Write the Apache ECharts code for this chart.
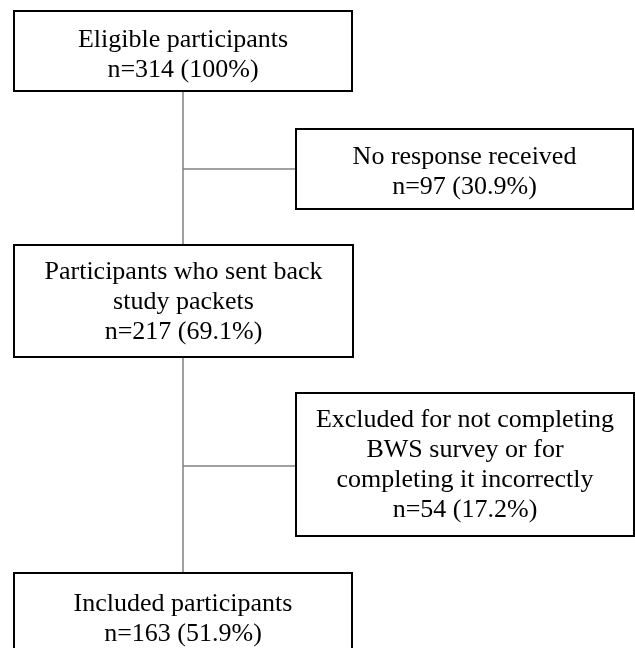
<!DOCTYPE html>
<html>
<head>
<meta charset="utf-8">
<script src="https://cdn.jsdelivr.net/npm/echarts@6/dist/echarts.min.js"></script>
<style>html,body{margin:0;padding:0;background:#fff}#c{width:635px;height:648px}</style>
</head>
<body>
<div id="c"></div>
<script>
// Data
const stageNames = [
  'Eligible participants',
  'No response received',
  'Participants who sent back\nstudy packets',
  'Excluded for not completing\nBWS survey or for\ncompleting it incorrectly',
  'Included participants'
];
const stageCounts = [314, 97, 217, 54, 163];
const stagePercents = ['100%', '30.9%', '69.1%', '17.2%', '51.9%'];

// Layout (pixel-like axis units): x0, y0, x1, y1, text center y
const boxLayout = [
  [14, 11, 352, 91, 55],
  [296, 129, 633, 209, 172],
  [14, 245, 353, 357, 302],
  [296, 393, 634, 536, 465],
  [14, 573, 352, 700, 619]
];
const connectors = [
  [183, 91, 183, 573],
  [183, 169, 296, 169],
  [183, 466, 296, 466]
];

const boxData = boxLayout.map((b, i) => ({
  value: b,
  text: stageNames[i] + '\nn=' + stageCounts[i] + ' (' + stagePercents[i] + ')'
}));

const chart = echarts.init(document.getElementById('c'));
chart.setOption({
  animation: false,
  grid: {left: 0, right: 0, top: 0, bottom: 0},
  xAxis: {type: 'value', min: 0, max: 635, show: false},
  yAxis: {type: 'value', min: 0, max: 648, inverse: true, show: false},
  series: [
    {
      type: 'custom',
      data: connectors,
      renderItem: function (params, api) {
        const p1 = api.coord([api.value(0), api.value(1)]);
        const p2 = api.coord([api.value(2), api.value(3)]);
        return {
          type: 'line',
          shape: {x1: p1[0], y1: p1[1], x2: p2[0], y2: p2[1]},
          style: {stroke: '#808080', lineWidth: 1.5}
        };
      }
    },
    {
      type: 'custom',
      data: boxData,
      renderItem: function (params, api) {
        const p1 = api.coord([api.value(0), api.value(1)]);
        const p2 = api.coord([api.value(2), api.value(3)]);
        const ty = api.coord([0, api.value(4)])[1];
        const txt = boxData[params.dataIndex].text;
        return {
          type: 'group',
          children: [
            {
              type: 'rect',
              shape: {x: p1[0], y: p1[1], width: p2[0] - p1[0], height: p2[1] - p1[1]},
              style: {fill: '#fff', stroke: '#000', lineWidth: 2}
            },
            {
              type: 'text',
              style: {
                x: (p1[0] + p2[0]) / 2,
                y: ty,
                text: txt,
                fontFamily: 'Liberation Serif',
                fontSize: 26,
                lineHeight: 30,
                fill: '#000',
                align: 'center',
                verticalAlign: 'middle'
              }
            }
          ]
        };
      }
    }
  ]
});
</script>
</body>
</html>
